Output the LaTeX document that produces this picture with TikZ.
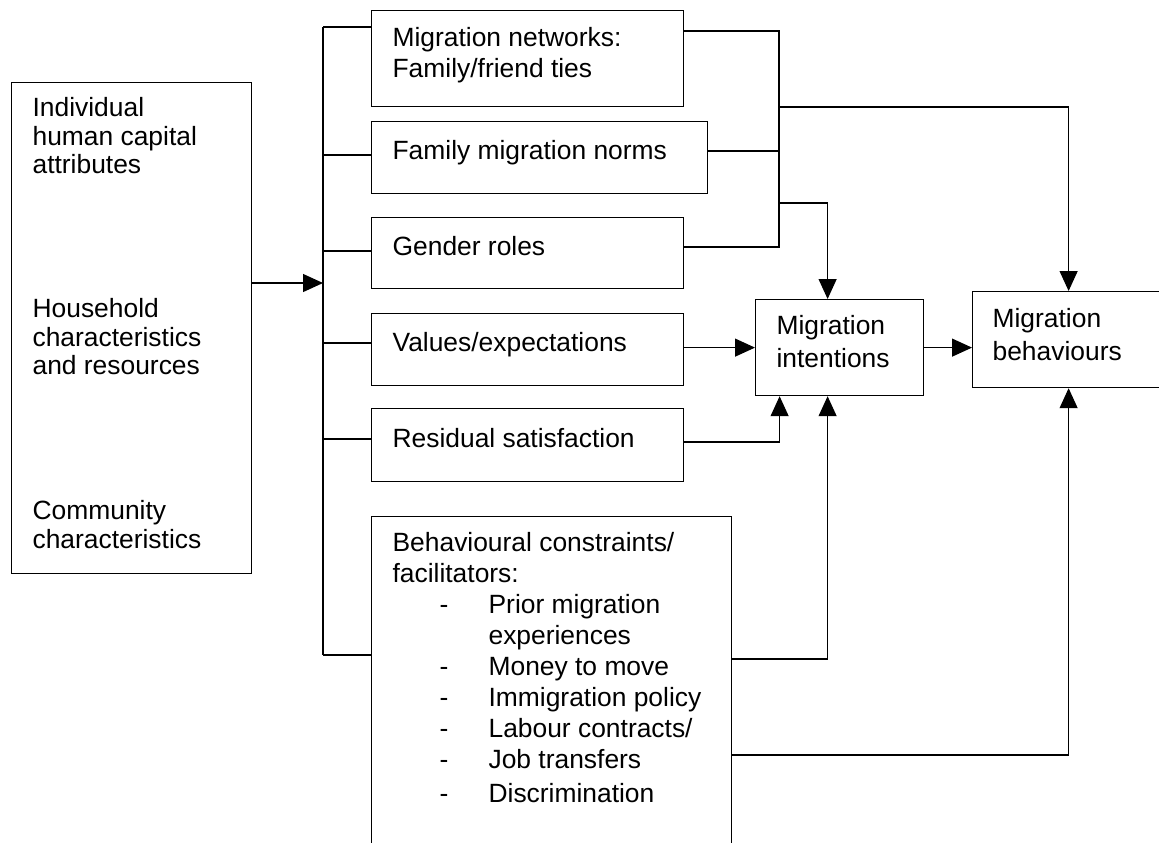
\documentclass[tikz,border=0pt]{standalone}
\usepackage{fontspec}
\setmainfont{Liberation Sans}
\usetikzlibrary{arrows.meta}

\newcommand\dashitem{\makebox[48pt][l]{\hspace{23.5pt}-}}

\begin{document}
\begin{tikzpicture}[x=0.5pt,y=-0.5pt,line width=0.6pt,
  >={Triangle[length=10pt,width=9pt]},
  box/.style={draw,anchor=north west,inner sep=0pt},
  txt/.style={anchor=north west,inner sep=0pt,align=left,
    font=\fontsize{13.2}{15.5}\selectfont}]
  \useasboundingbox (0,0) rectangle (1159,842);
  % boxes
  \node[box,minimum width=120pt,minimum height=245.5pt] (ext) at (11,82) {};
  \node[box,minimum width=156pt,minimum height=48pt] (net) at (371,10) {};
  \node[box,minimum width=168pt,minimum height=36pt] (norms) at (371,121) {};
  \node[box,minimum width=156pt,minimum height=35.5pt] (gender) at (371,217) {};
  \node[box,minimum width=156pt,minimum height=36pt] (values) at (371,313) {};
  \node[box,minimum width=156pt,minimum height=36.5pt] (resid) at (371,408) {};
  \node[box,minimum width=180pt,minimum height=180pt] (constr) at (371,516) {};
  \node[box,minimum width=84pt,minimum height=48pt] (intent) at (755,299) {};
  \node[box,minimum width=96pt,minimum height=48pt] (behav) at (972,291) {};
  % texts
  \node[txt,font=\fontsize{13.2}{14.2}\selectfont] (extA) at (32,97) {Individual\\human capital\\attributes};
  \node[txt,font=\fontsize{13.2}{14.2}\selectfont] (extB) at (32,298) {Household\\characteristics\\and resources};
  \node[txt,font=\fontsize{13.2}{14.2}\selectfont] (extC) at (32,500) {Community\\characteristics};
  \node[txt] (nett) at (392,27) {Migration networks:\\Family/friend ties};
  \node[txt] (normst) at (392,140) {Family migration norms};
  \node[txt] (gendert) at (392,236) {Gender roles};
  \node[txt] (valuest) at (392,332) {Values/expectations};
  \node[txt] (residt) at (392,428) {Residual satisfaction};
  \node[txt] (constrt) at (392,532) {Behavioural constraints/\\facilitators:\\
    \dashitem Prior migration\\\hspace*{48pt}experiences\\
    \dashitem Money to move\\\dashitem Immigration policy\\
    \dashitem Labour contracts/\\\dashitem Job transfers\\[1.5pt]
    \dashitem Discrimination};
  \node[txt,font=\fontsize{13.2}{16.5}\selectfont] (intentt) at (776,315) {Migration\\intentions};
  \node[txt,font=\fontsize{13.2}{16.5}\selectfont] (behavt) at (992,308) {Migration\\behaviours};
  % bus on the left
  \coordinate (bustop) at (323,27);
  \coordinate (busbot) at (323,655);
  \coordinate (busin) at (323,283);
  \draw[->] (ext.east |- busin) -- (busin);
  \draw (bustop) -- (busbot);
  \foreach \n/\y in {net/27,norms/155,gender/251,values/343,resid/439,constr/655}
    \draw (323,\y) coordinate (b) -- (b -| \n.west);
  % collector on the right
  \coordinate (colltop) at (779,31);
  \coordinate (collbot) at (779,247);
  \draw (net.east |- colltop) -- (colltop) -- (collbot) -- (gender.east |- collbot);
  \draw (norms.east |- 0,151) -- (779,151);
  \draw[->] (779,107) -| (behav.north);
  \draw[->] (779,203) -| ([xshift=-6pt]intent.north);
  \draw[->] (intent.west -| values.east) -- (intent.west);
  \draw[->] (intent.east) -- (intent.east -| behav.west);
  \draw[->] (resid.east |- 0,442) -| ([xshift=-30pt]intent.south);
  \draw[->] (constr.east |- 0,659) -| ([xshift=-6pt]intent.south);
  \draw[->] (constr.east |- 0,755) -| (behav.south);
\end{tikzpicture}
\end{document}
